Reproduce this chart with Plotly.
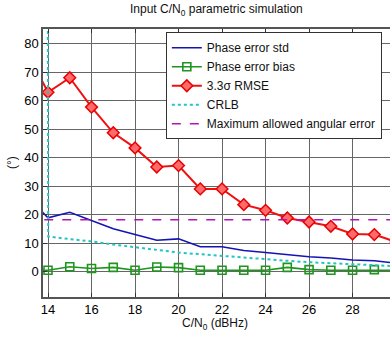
import plotly.graph_objects as go

# C/N0 values (dBHz)
cn0 = [13, 14, 15, 16, 17, 18, 19, 20, 21, 22, 23, 24, 25, 26, 27, 28, 29, 30]
phase_std = [26.7, 19.0, 20.9, 18.1, 15.1, 13.1, 11.1, 11.6, 8.8, 8.8, 7.5, 6.8, 6.0, 5.3, 4.9, 4.2, 3.9, 3.1]
phase_bias = [0.5, 0.6, 1.8, 1.2, 1.6, 0.6, 1.7, 1.5, 0.6, 0.6, 0.6, 0.6, 1.6, 0.8, 0.6, 0.6, 0.8, 0.6]
rmse_33 = [77.8, 63.0, 68.1, 57.8, 48.8, 43.5, 36.8, 37.3, 29.1, 29.1, 23.6, 21.6, 18.9, 17.5, 16.0, 13.3, 13.1, 10.5]

crlb_x = [13.99, 14.01, 15, 16, 17, 18, 19, 20, 21, 22, 23, 24, 25, 26, 27, 28, 29, 30]
crlb = [95.0, 12.4, 11.5, 10.7, 9.6, 8.6, 7.6, 6.8, 6.2, 5.6, 4.9, 4.4, 3.9, 3.4, 3.0, 2.7, 2.3, 2.0]

max_err_x = [13, 31]
max_err = [18.3, 18.3]

x_ticks = [14, 16, 18, 20, 22, 24, 26, 28, 30]
y_ticks = [0, 10, 20, 30, 40, 50, 60, 70, 80]

FONT = "Liberation Sans, Arial, sans-serif"

fig = go.Figure()
fig.add_trace(go.Scatter(x=cn0, y=phase_std, mode="lines", name="Phase error std",
                         line=dict(color="#1414b4", width=1.6)))
fig.add_trace(go.Scatter(x=cn0, y=phase_bias, mode="lines+markers", name="Phase error bias",
                         line=dict(color="#1e961e", width=1.6),
                         marker=dict(symbol="square-open", size=8, color="#1e961e", line=dict(width=1.6))))
fig.add_trace(go.Scatter(x=cn0, y=rmse_33, mode="lines+markers", name="3.3σ RMSE",
                         line=dict(color="#f01010", width=2),
                         marker=dict(symbol="diamond", size=9, color="#ff6a6a",
                                     line=dict(color="#e80000", width=1.5))))
fig.add_trace(go.Scatter(x=crlb_x, y=crlb, mode="lines", name="CRLB",
                         line=dict(color="#22c4c4", width=2, dash="dot")))
fig.add_trace(go.Scatter(x=max_err_x, y=max_err, mode="lines", name="Maximum allowed angular error",
                         line=dict(color="#b414b4", width=1.6, dash="dash")))

fig.update_layout(
    width=390, height=339,
    margin=dict(l=43, r=0, t=29, b=42),
    paper_bgcolor="white", plot_bgcolor="white",
    font=dict(family=FONT, size=12, color="#111"),
    showlegend=True,
    legend=dict(x=0.354, y=0.988, xanchor="left", yanchor="top",
                bgcolor="white", bordercolor="#333", borderwidth=1,
                font=dict(family=FONT, size=12, color="#111"),
                tracegroupgap=0, itemwidth=30),
    annotations=[
        dict(text="Input C/N<sub>0</sub> parametric simulation", x=0.501, y=1.071,
             xref="paper", yref="paper", showarrow=False, xanchor="center", yanchor="middle",
             font=dict(family=FONT, size=12, color="#111")),
        dict(text="C/N<sub>0</sub> (dBHz)", x=0.496, y=-0.1, xref="paper", yref="paper",
             showarrow=False, xanchor="center", yanchor="middle",
             font=dict(family=FONT, size=12, color="#111")),
        dict(text="(°)", x=-0.089, y=0.5, xref="paper", yref="paper", textangle=-90,
             showarrow=False, xanchor="center", yanchor="middle",
             font=dict(family=FONT, size=12, color="#111")),
    ],
)
fig.update_xaxes(range=[13.77, 29.72], tickvals=x_ticks, ticks="inside", ticklen=4,
                 tickcolor="#333", showline=True, linecolor="#555", linewidth=1.5,
                 mirror="ticks", showgrid=True, gridcolor="#666", gridwidth=1,
                 zeroline=False, tickfont=dict(size=13, color="#000"))
fig.update_yaxes(range=[-8.8, 85.2], tickvals=y_ticks, ticks="inside", ticklen=4,
                 tickcolor="#333", showline=True, linecolor="#555", linewidth=1.5,
                 showgrid=True, gridcolor="#666", gridwidth=1, zeroline=False,
                 tickfont=dict(size=13, color="#000"))

fig.write_html("out.html", config={"displayModeBar": False},
               post_script="document.body.style.margin='0';")
